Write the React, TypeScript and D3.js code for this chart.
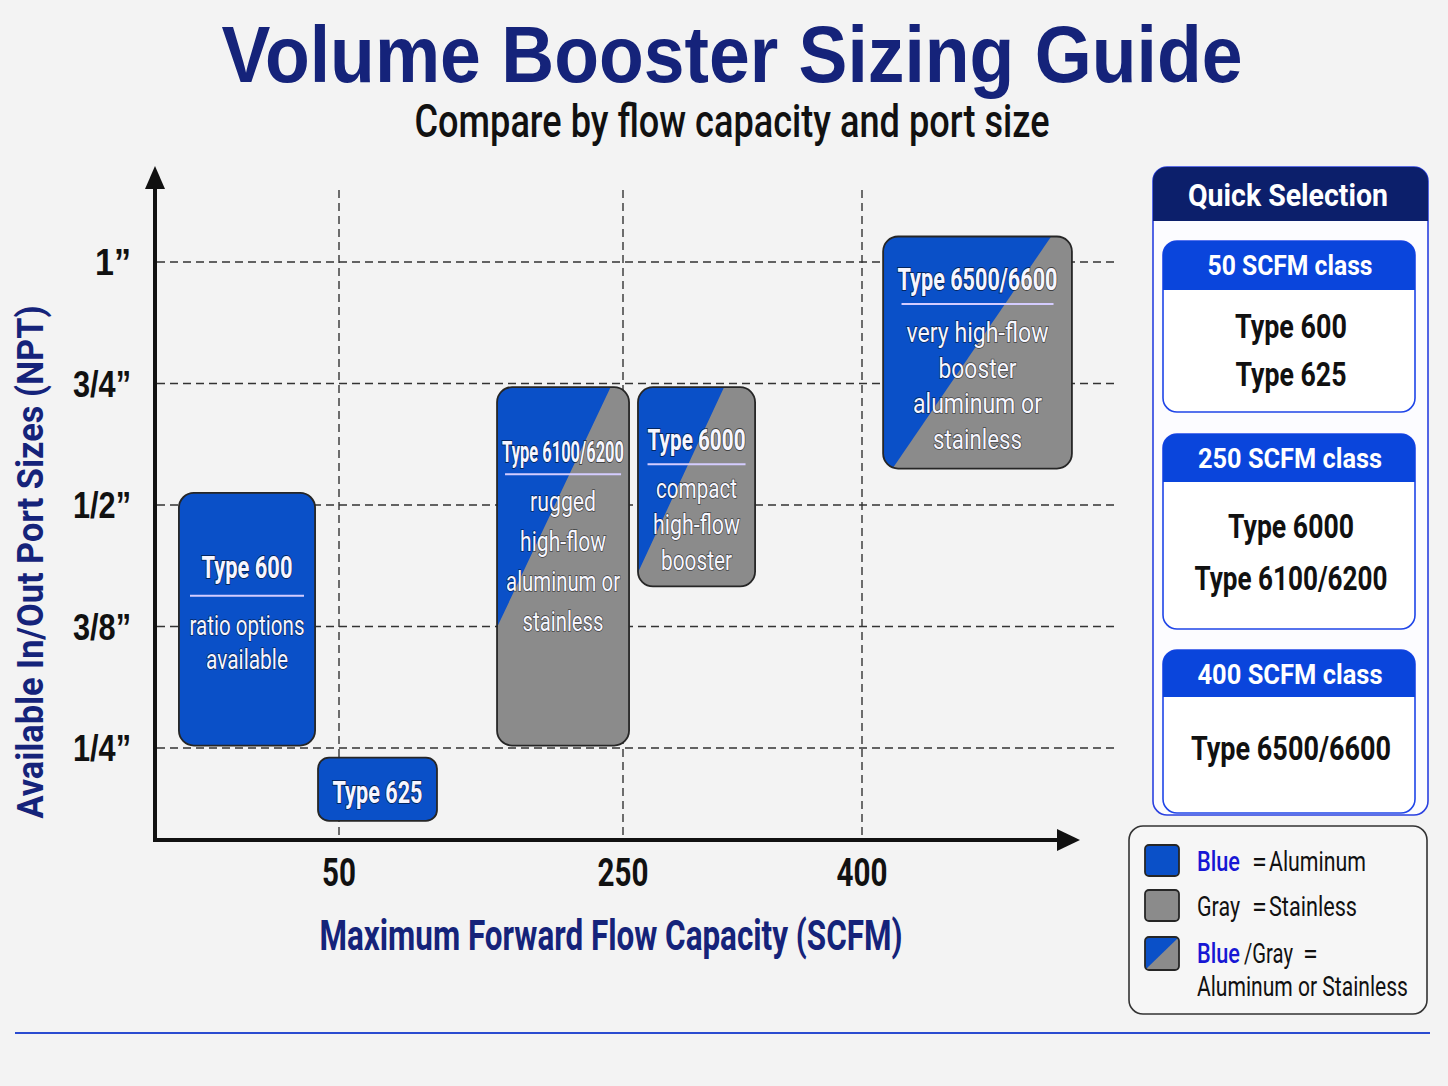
import React from 'react';
import * as d3 from 'd3';

// Axis categories
const portSizes = ['1/4”', '3/8”', '1/2”', '3/4”', '1”'];
const flowTicks = [50, 250, 400];

// Product boxes: flow range (SCFM) and port range (index into portSizes)
const boxNames = ['Type 600', 'Type 625', 'Type 6100/6200', 'Type 6000', 'Type 6500/6600'];
const boxNotes = [
  ['ratio options', 'available'],
  [],
  ['rugged', 'high-flow', 'aluminum or', 'stainless'],
  ['compact', 'high-flow', 'booster'],
  ['very high-flow', 'booster', 'aluminum or', 'stainless'],
];
const boxFlow = [[6.5, 43.5], [44.3, 119], [161.3, 253.8], [259.4, 332.9], [413.2, 531.2]];
const boxPort = [[0.02, 2.1], [-0.6, -0.08], [0.02, 2.97], [1.33, 2.97], [2.3, 4.21]];
const boxMaterial = ['aluminum', 'aluminum', 'both', 'both', 'both'];

// Quick selection panel
const classNames = ['50 SCFM class', '250 SCFM class', '400 SCFM class'];
const classMembers = [['Type 600', 'Type 625'], ['Type 6000', 'Type 6100/6200'], ['Type 6500/6600']];

// Legend
const legendKeys = ['Blue', 'Gray', 'Blue/Gray'];
const legendValues = ['Aluminum', 'Stainless', 'Aluminum or Stainless'];
const legendMaterials = ['aluminum', 'stainless', 'both'];

const W = 1448;
const H = 1086;
const BLUE = '#0a50c8';
const GRAY = '#8b8b8b';
const NAVY = '#15237a';
const KEY_BLUE = '#1717d4';
const FONT = 'Roboto, "Liberation Sans", Arial, sans-serif';

// text layout inside each box (offsets from box top, measured widths)
const boxText: Record<string, any> = {
  'Type 600': { titleDy: 85, titleSize: 31, titleLen: 91, ruleDy: 103, ruleHalf: 57, noteDy: 142, noteGap: 34, noteSize: 27, noteLens: [115, 82] },
  'Type 625': { titleDy: 45, titleSize: 31, titleLen: 90 },
  'Type 6100/6200': { titleDy: 75, titleSize: 29, titleLen: 122, ruleDy: 87, ruleHalf: 58, noteDy: 124, noteGap: 40, noteSize: 28, noteLens: [66, 86, 114, 81] },
  'Type 6000': { titleDy: 63, titleSize: 30, titleLen: 98, ruleDy: 77, ruleHalf: 49, noteDy: 111, noteGap: 36, noteSize: 27, noteLens: [81, 87, 71] },
  'Type 6500/6600': { titleDy: 53.5, titleSize: 32, titleLen: 160, ruleDy: 67.5, ruleHalf: 76, noteDy: 105.5, noteGap: 35.7, noteSize: 28, noteLens: [142, 78, 129, 89] },
};
// diagonal split of blue/gray boxes, as fractions [x1, y1, x2, y2]
const splitLine: Record<string, number[]> = {
  'Type 6100/6200': [0.86, 0, 0, 0.67],
  'Type 6000': [0.735, 0, 0, 0.93],
  'Type 6500/6600': [0.89, 0, 0.05, 1],
};

const x = d3.scaleLinear().domain([0, 50, 250, 400, 535]).range([155, 339, 623, 862, 1078]);
const y = d3.scaleLinear().domain([0, portSizes.length - 1]).range([748, 262]);

const topRounded = (x0: number, y0: number, w: number, h: number, r: number) => {
  const p = d3.path();
  p.moveTo(x0, y0 + h);
  p.lineTo(x0, y0 + r);
  p.arcTo(x0, y0, x0 + r, y0, r);
  p.lineTo(x0 + w - r, y0);
  p.arcTo(x0 + w, y0, x0 + w, y0 + r, r);
  p.lineTo(x0 + w, y0 + h);
  p.closePath();
  return p.toString();
};

const outline = { stroke: 'rgba(0,0,0,0.55)', strokeWidth: 2, paintOrder: 'stroke' as const };

const Swatch: React.FC<{ id: string; x0: number; y0: number; w: number; h: number; r: number; material: string; split?: number[]; stroke?: string }> = ({ id, x0, y0, w, h, r, material, split, stroke = '#262626' }) => {
  const s = split || [1, 0, 0, 1];
  const pts = [[0, 0], [s[0] * w, s[1] * h], [s[2] * w, s[3] * h], [0, h]].map(([a, b]) => `${x0 + a},${y0 + b}`).join(' ');
  return (
    <g>
      <clipPath id={id}>
        <rect x={x0} y={y0} width={w} height={h} rx={r} />
      </clipPath>
      <rect x={x0} y={y0} width={w} height={h} rx={r} fill={material === 'aluminum' ? BLUE : GRAY} />
      {material === 'both' && <polygon points={pts} fill={BLUE} clipPath={`url(#${id})`} />}
      <rect x={x0} y={y0} width={w} height={h} rx={r} fill="none" stroke={stroke} strokeWidth={1.8} />
    </g>
  );
};

const App: React.FC = () => {
  const gridX0 = 157;
  const gridX1 = 1115;
  return (
    <svg width={W} height={H} style={{ position: 'absolute', left: 0, top: 0, display: 'block' }} fontFamily={FONT}>
      <rect width={W} height={H} fill="#f3f3f3" />

      {/* Title */}
      <text x={732} y={82} textAnchor="middle" fontFamily='"Liberation Sans", Arial, sans-serif' fontWeight={700} fontSize={80} fill={NAVY} textLength={1021} lengthAdjust="spacingAndGlyphs">
        Volume Booster Sizing Guide
      </text>
      <text x={732} y={137} textAnchor="middle" fontWeight={500} fontSize={46} fill="#111" textLength={635} lengthAdjust="spacingAndGlyphs">
        Compare by flow capacity and port size
      </text>

      {/* Grid */}
      <g stroke="#333" strokeWidth={1.4} strokeDasharray="8 5">
        {portSizes.map((p, i) => (
          <line key={p} x1={gridX0} x2={gridX1} y1={y(i)} y2={y(i)} />
        ))}
        {flowTicks.map((t) => (
          <line key={t} x1={x(t)} x2={x(t)} y1={190} y2={840} />
        ))}
      </g>

      {/* Axes */}
      <g stroke="#111" strokeWidth={4} fill="none">
        <line x1={155} x2={155} y1={842} y2={185} />
        <line x1={153} x2={1060} y1={840} y2={840} />
      </g>
      <polygon points="155,166 145,189 165,189" fill="#111" />
      <polygon points="1080,840 1057,829 1057,851" fill="#111" />

      {/* Y ticks */}
      {portSizes.map((p, i) => (
        <text key={p} x={131} y={y(i) + 13} textAnchor="end" fontFamily='"Liberation Sans", Arial, sans-serif' fontWeight={700} fontSize={36} fill="#111" textLength={p.length === 2 ? 36 : 58} lengthAdjust="spacingAndGlyphs">
          {p}
        </text>
      ))}
      {/* X ticks */}
      {flowTicks.map((t) => (
        <text key={t} x={x(t)} y={886} textAnchor="middle" fontWeight={700} fontSize={38} fill="#111" textLength={String(t).length === 2 ? 34 : 51} lengthAdjust="spacingAndGlyphs">
          {t}
        </text>
      ))}

      {/* Axis titles */}
      <text x={611} y={950} textAnchor="middle" fontWeight={700} fontSize={42} fill={NAVY} textLength={583} lengthAdjust="spacingAndGlyphs">
        Maximum Forward Flow Capacity (SCFM)
      </text>
      <text transform="translate(43,562) rotate(-90)" textAnchor="middle" fontWeight={700} fontSize={37} fill={NAVY} textLength={513} lengthAdjust="spacingAndGlyphs">
        Available In/Out Port Sizes (NPT)
      </text>

      {/* Product boxes */}
      {boxNames.map((name, i) => {
        const x0 = x(boxFlow[i][0]);
        const x1 = x(boxFlow[i][1]);
        const y0 = y(boxPort[i][1]);
        const y1 = y(boxPort[i][0]);
        const cx = (x0 + x1) / 2;
        const t = boxText[name];
        return (
          <g key={name}>
            <Swatch id={`clip-box-${i}`} x0={x0} y0={y0} w={x1 - x0} h={y1 - y0} r={name === 'Type 625' ? 11 : 15} material={boxMaterial[i]} split={splitLine[name]} />
            <text x={cx} y={y0 + t.titleDy} textAnchor="middle" fontWeight={700} fontSize={t.titleSize} fill="#f6f6ff" textLength={t.titleLen} lengthAdjust="spacingAndGlyphs" style={outline}>
              {name}
            </text>
            {t.ruleDy && <line x1={cx - t.ruleHalf} x2={cx + t.ruleHalf} y1={y0 + t.ruleDy} y2={y0 + t.ruleDy} stroke="#d4ccff" strokeWidth={2} />}
            {boxNotes[i].map((note, j) => (
              <text key={note + j} x={cx} y={y0 + t.noteDy + j * t.noteGap} textAnchor="middle" fontWeight={400} fontSize={t.noteSize} fill="#f6f6ff" textLength={t.noteLens[j]} lengthAdjust="spacingAndGlyphs" style={{ ...outline, strokeWidth: 1.6 }}>
                {note}
              </text>
            ))}
          </g>
        );
      })}

      {/* Quick selection panel */}
      <rect x={1153} y={167} width={275} height={648} rx={14} fill="#fcfcff" stroke="#2a40e0" strokeWidth={1.6} />
      <path d={topRounded(1153, 167, 275, 54, 14)} fill="#0c1f6b" />
      <text x={1288} y={206} textAnchor="middle" fontWeight={700} fontSize={31} fill="#fff" textLength={200} lengthAdjust="spacingAndGlyphs">
        Quick Selection
      </text>
      {classNames.map((c, i) => {
        const cardY = [241, 434, 650][i];
        const cardH = [171, 195, 163][i];
        const headH = [49, 48, 47][i];
        const headLen = [165, 184, 185][i];
        const lineY = [[338, 386], [538, 590], [760]][i];
        const lineLen = [[112, 111], [126, 193], [200]][i];
        return (
          <g key={c}>
            <rect x={1163} y={cardY} width={252} height={cardH} rx={14} fill="#fff" stroke="#1f45e8" strokeWidth={1.6} />
            <path d={topRounded(1163, cardY, 252, headH, 14)} fill="#0a45dc" />
            <text x={1290} y={cardY + 34} textAnchor="middle" fontWeight={700} fontSize={27} fill="#fff" textLength={headLen} lengthAdjust="spacingAndGlyphs">
              {c}
            </text>
            {classMembers[i].map((m, j) => (
              <text key={m} x={1291} y={lineY[j]} textAnchor="middle" fontWeight={700} fontSize={34} fill="#111" textLength={lineLen[j]} lengthAdjust="spacingAndGlyphs">
                {m}
              </text>
            ))}
          </g>
        );
      })}

      {/* Legend */}
      <rect x={1129} y={826} width={298} height={188} rx={14} fill="#f6f6f6" stroke="#333" strokeWidth={1.6} />
      {legendKeys.map((k, i) => {
        const sy = [845, 890, 937][i];
        const ty = [871, 916, 963][i];
        const [first, second] = k.split('/');
        return (
          <g key={k} fontSize={27}>
            <Swatch id={`clip-legend-${i}`} x0={1145} y0={sy} w={34} h={i === 2 ? 33 : 31} r={4} material={legendMaterials[i]} />
            <text x={1197} y={ty} fill={first === 'Blue' ? KEY_BLUE : '#111'} fontWeight={first === 'Blue' ? 500 : 400} textLength={43} lengthAdjust="spacingAndGlyphs">
              {first}
            </text>
            {second && (
              <text x={1244} y={ty} fill="#111" textLength={49} lengthAdjust="spacingAndGlyphs">
                /{second}
              </text>
            )}
            <text x={second ? 1303 : 1252} y={ty} fill="#111">=</text>
            {i < 2 ? (
              <text x={1269} y={ty} fill="#111" textLength={i === 0 ? 97 : 88} lengthAdjust="spacingAndGlyphs">
                {legendValues[i]}
              </text>
            ) : (
              <text x={1197} y={996} fill="#111" textLength={211} lengthAdjust="spacingAndGlyphs">
                {legendValues[i]}
              </text>
            )}
          </g>
        );
      })}

      {/* Footer rule */}
      <line x1={15} x2={1430} y1={1033} y2={1033} stroke="#2a4bd0" strokeWidth={2} />
    </svg>
  );
};

export default App;
